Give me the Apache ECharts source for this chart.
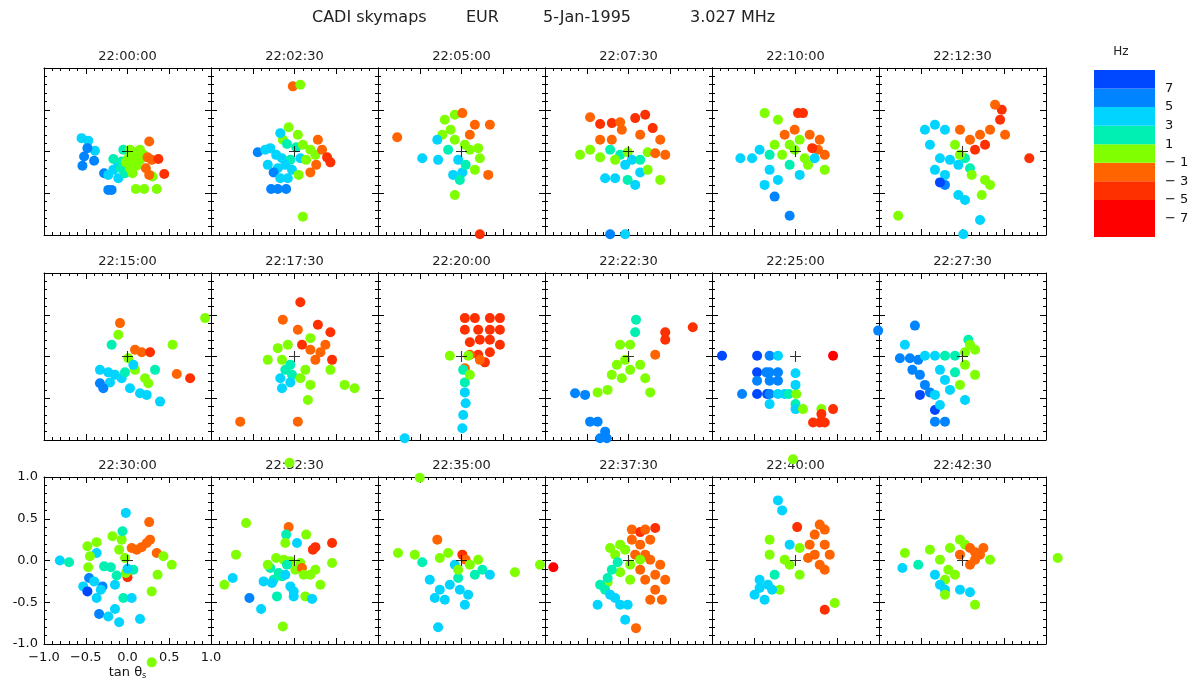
<!DOCTYPE html>
<html>
<head>
<meta charset="utf-8">
<script src="https://cdn.jsdelivr.net/npm/echarts@6/dist/echarts.min.js"></script>
<style>
  html, body { margin: 0; padding: 0; background: #fff; }
  #chart { width: 1195px; height: 684px; }
</style>
</head>
<body>
<div id="chart"></div>
<script>
// Sky-map echoes: each point is [tan θx, tan θy, Doppler shift in Hz]
const frameTimes = ['22:00:00', '22:02:30', '22:05:00', '22:07:30', '22:10:00', '22:12:30',
                    '22:15:00', '22:17:30', '22:20:00', '22:22:30', '22:25:00', '22:27:30',
                    '22:30:00', '22:32:30', '22:35:00', '22:37:30', '22:40:00', '22:42:30'];

const s220000 = [[-0.55,0.16,4],[-0.47,0.13,4],[-0.39,0.01,4],
  [-0.48,0.04,6],[-0.52,-0.06,6],[-0.54,-0.17,6],[-0.40,-0.11,6],[-0.28,-0.26,6],[-0.23,-0.46,6],[-0.19,-0.46,6],
  [-0.23,-0.28,4],[-0.11,-0.32,4],[-0.11,-0.16,4],[-0.17,-0.22,4],
  [-0.17,-0.09,2],[-0.05,0.02,2],[-0.03,-0.26,2],[-0.08,-0.20,2],[-0.07,-0.12,2],
  [0.03,0.02,0],[0.09,-0.01,0],[0.15,0.02,0],[0.01,-0.08,0],[0.07,-0.13,0],[0.15,-0.10,0],[0.11,-0.17,0],[0.03,-0.20,0],
  [0.06,-0.26,0],[0.10,-0.45,0],[0.20,-0.45,0],[0.35,-0.45,0],[0.30,-0.30,0],[-0.02,-0.13,0],[0.19,-0.04,0],[0.05,-0.05,0],[0.12,-0.06,0],
  [0.26,0.12,-2],[0.24,-0.07,-2],[0.22,-0.20,-2],[0.26,-0.28,-2],[0.29,-0.10,-2],
  [0.37,-0.09,-4],[0.44,-0.27,-4]];

const s220230 = [[-0.02,0.78,-2],[0.07,0.80,0],[-0.07,0.29,0],[0.04,0.20,0],[-0.14,0.14,0],[-0.17,0.22,4],[-0.09,0.09,2],
  [-0.44,-0.01,6],[-0.35,0.02,4],[-0.29,0.04,4],[-0.22,-0.04,4],[-0.15,-0.08,4],[-0.05,-0.10,2],[-0.11,-0.16,4],[-0.20,-0.20,4],
  [-0.03,-0.22,4],[0.07,-0.08,4],[0.02,0.05,2],[-0.25,-0.25,6],[-0.32,-0.16,4],[-0.08,-0.32,4],[-0.17,-0.32,4],
  [-0.28,-0.45,6],[-0.20,-0.45,6],[-0.10,-0.45,6],
  [0.10,0.08,0],[0.19,0.02,0],[0.14,-0.10,0],[0.25,-0.04,0],[0.05,-0.28,0],
  [0.28,0.14,-2],[0.33,0.02,-2],[0.39,-0.07,-4],[0.26,-0.16,-2],[0.43,-0.13,-4],[0.19,-0.25,-2],
  [0.10,-0.78,0]];

const s220500 = [[-0.77,0.17,-2],[-0.20,0.38,0],[-0.08,0.44,0],[0.01,0.46,-2],[0.16,0.32,-2],[0.34,0.32,-2],[0.10,0.20,-2],
  [-0.23,0.20,0],[-0.13,0.26,0],[-0.08,0.14,0],[-0.29,0.14,4],[-0.47,-0.08,4],[-0.28,-0.10,4],[-0.16,0.02,2],
  [0.10,0.02,0],[0.22,-0.08,0],[-0.04,-0.10,4],[0.01,-0.25,4],[0.05,-0.16,2],[-0.10,-0.28,4],[0.32,-0.28,-2],
  [0.16,-0.22,0],[-0.02,-0.34,2],[-0.08,-0.52,0],[0.22,-0.99,-4],[0.04,0.08,0],[0.20,0.04,0]];

const s220730 = [[-0.46,0.41,-2],[-0.34,0.33,-4],[-0.20,0.34,-4],[-0.10,0.35,-2],[0.08,0.40,-4],[0.20,0.44,-4],[0.29,0.28,-4],
  [0.38,0.14,-2],[0.14,0.20,-2],[-0.20,0.14,-2],[-0.34,0.14,-2],[-0.08,0.26,-2],
  [-0.58,-0.04,0],[-0.46,0.02,0],[-0.34,-0.07,0],[-0.22,0.02,2],[-0.10,-0.04,2],[-0.01,-0.01,0],[0.04,-0.10,4],[-0.04,-0.16,4],
  [0.14,-0.10,2],[0.23,-0.01,0],[0.32,-0.02,-2],[0.44,-0.04,-2],[-0.16,-0.10,0],
  [-0.28,-0.32,4],[-0.16,-0.32,4],[-0.01,-0.34,2],[0.14,-0.25,4],[0.23,-0.22,0],[0.38,-0.34,0],[0.08,-0.40,4],
  [-0.22,-0.99,6],[-0.04,-0.99,4]];

const s221000 = [[-0.37,0.46,0],[-0.21,0.38,0],[0.03,0.46,-4],[0.09,0.46,-4],[-0.13,0.20,-2],[-0.01,0.26,-2],[0.17,0.20,-2],
  [0.29,0.14,-2],[0.05,0.14,0],[-0.07,0.08,0],
  [-0.66,-0.08,4],[-0.52,-0.08,4],[-0.43,0.02,4],[-0.31,-0.04,2],[-0.25,0.08,0],[-0.16,-0.04,0],[-0.01,0.02,0],[0.11,-0.08,0],
  [0.27,0.02,-2],[0.35,-0.04,-2],[0.20,0.04,-4],
  [-0.31,-0.22,4],[-0.21,-0.34,4],[-0.37,-0.40,4],[-0.25,-0.54,6],[-0.07,-0.77,6],[-0.07,-0.16,2],[0.15,-0.16,0],
  [0.35,-0.22,0],[0.05,-0.28,4],[0.23,-0.08,4]];

const s221230 = [[-0.77,-0.77,0],[0.01,-0.99,4],[0.80,-0.08,-4],
  [0.09,0.14,-2],[0.21,0.20,-2],[0.33,0.26,-2],[0.45,0.38,-4],[0.47,0.50,-4],[0.39,0.56,-2],[0.27,0.08,-4],[0.15,0.02,-4],
  [-0.03,0.26,-2],[0.51,0.20,-2],
  [-0.45,0.26,4],[-0.33,0.32,4],[-0.21,0.26,4],[-0.39,0.08,4],[-0.27,-0.08,4],[-0.15,-0.10,4],[-0.33,-0.22,4],[-0.21,-0.28,4],
  [-0.05,-0.16,4],[0.03,-0.08,2],[0.09,-0.20,2],
  [-0.09,0.08,0],[-0.03,-0.04,0],[0.11,-0.28,0],[0.27,-0.34,0],[0.33,-0.40,0],[0.23,-0.52,0],[-0.05,-0.52,4],[-0.21,-0.40,6],
  [0.03,-0.58,4],[0.21,-0.82,4],[-0.27,-0.37,8]];

const s221500 = [[0.93,0.46,0],[-0.09,0.40,-2],[-0.11,0.26,0],[-0.19,0.14,2],[0.09,0.08,-2],[0.17,0.05,-2],[0.27,0.05,-4],[0.01,-0.02,0],
  [-0.33,-0.16,4],[-0.23,-0.19,4],[-0.15,-0.22,4],[-0.07,-0.26,4],[-0.21,-0.31,4],[-0.33,-0.32,6],[-0.29,-0.38,6],[-0.03,-0.19,2],
  [0.09,-0.16,0],[0.21,-0.26,0],[0.25,-0.32,0],[0.03,-0.38,4],[0.15,-0.44,4],[0.23,-0.46,4],[0.39,-0.54,4],[0.07,-0.10,4],
  [0.59,-0.21,-2],[0.75,-0.26,-4],[0.54,0.14,0],[0.33,-0.16,2]];

const s221730 = [[0.07,0.65,-4],[0.04,0.32,-2],[-0.14,0.44,-2],[0.28,0.38,-4],[0.43,0.29,-4],[0.37,0.14,-2],[0.31,0.05,-2],
  [0.19,0.08,-2],[0.25,-0.04,-2],[0.09,0.14,-4],
  [-0.20,0.10,0],[-0.08,0.14,0],[-0.15,-0.04,0],[-0.05,-0.10,2],[-0.11,-0.16,2],[-0.03,-0.22,2],[-0.17,-0.26,4],[-0.05,-0.31,4],
  [0.13,-0.16,0],[0.07,-0.26,0],[0.19,-0.34,0],[0.43,-0.16,0],[0.60,-0.34,0],[0.72,-0.38,0],[-0.32,-0.04,0],
  [-0.65,-0.78,-2],[0.04,-0.78,-2],[0.16,-0.52,0],[-0.15,-0.38,4],[0.45,-0.04,-4],[0.19,0.22,0]];

const s222000 = [[0.04,0.46,-4],[0.16,0.46,-4],[0.34,0.46,-4],[0.46,0.46,-4],[0.04,0.32,-4],[0.20,0.32,-4],[0.34,0.32,-4],
  [0.46,0.32,-4],[0.10,0.17,-4],[0.22,0.20,-4],[0.34,0.20,-4],[0.46,0.14,-4],[0.20,0.02,-4],[0.34,0.05,-4],[0.28,-0.07,-4],
  [0.10,0.02,-2],[0.22,-0.04,-2],[0.04,-0.14,-2],
  [-0.14,0.01,0],[0.08,0.01,0],[0.02,-0.16,2],[0.04,-0.31,2],[0.04,-0.43,4],[0.05,-0.56,4],[0.02,-0.70,4],[0.01,-0.86,4],
  [-0.68,-0.98,4],[0.10,-0.22,0]];

const s222230 = [[0.77,0.35,-4],[0.44,0.29,-4],[0.44,0.20,-4],[0.09,0.44,2],[0.32,0.02,-2],
  [-0.10,0.14,0],[0.02,0.14,0],[-0.04,-0.04,0],[-0.14,-0.10,0],[0.02,-0.16,0],[0.14,-0.10,0],[0.20,-0.26,0],[-0.08,-0.26,0],
  [0.08,0.29,2],[-0.25,-0.40,0],[-0.37,-0.43,0],[-0.20,-0.22,0],[0.26,-0.43,0],
  [-0.64,-0.44,6],[-0.52,-0.46,6],[-0.46,-0.78,6],[-0.37,-0.78,6],[-0.28,-0.90,6],[-0.26,-0.98,6],[-0.34,-0.98,6]];

const s222500 = [[-0.88,0.01,8],[-0.46,0.01,8],[-0.31,0.01,6],[-0.21,0.01,4],[0.45,0.01,-8],
  [-0.46,-0.19,8],[-0.35,-0.19,6],[-0.31,-0.19,6],[-0.21,-0.19,6],
  [-0.46,-0.29,6],[-0.31,-0.29,6],[-0.21,-0.29,6],
  [-0.64,-0.45,6],[-0.46,-0.45,8],[-0.34,-0.45,8],[-0.31,-0.45,6],[-0.21,-0.45,4],[-0.13,-0.45,4],[-0.08,-0.45,2],[0.01,-0.45,0],
  [0.00,-0.20,4],[0.00,-0.34,4],[-0.31,-0.57,4],[0.00,-0.57,2],[0.00,-0.63,4],[0.09,-0.63,0],[0.31,-0.63,0],[0.31,-0.69,-4],
  [0.45,-0.63,-4],[0.21,-0.79,-4],[0.29,-0.79,-4],[0.35,-0.79,-4],[-0.03,-1.23,0]];

const s222730 = [[-1.01,0.31,6],[-0.57,0.37,6],[-0.69,0.14,4],[-0.75,-0.02,6],[-0.63,-0.02,6],[-0.53,-0.04,6],[-0.45,0.01,4],
  [-0.33,0.01,4],[-0.21,0.01,2],[-0.09,0.01,2],[0.03,0.05,0],[0.15,0.08,0],[0.07,0.20,2],[0.09,0.14,0],
  [-0.60,-0.16,6],[-0.51,-0.22,6],[-0.45,-0.34,6],[-0.39,-0.43,6],[-0.51,-0.46,8],[-0.33,-0.64,8],
  [-0.27,-0.16,4],[-0.21,-0.28,4],[-0.15,-0.40,4],[-0.33,-0.46,4],[-0.27,-0.58,4],[-0.09,-0.19,2],[0.03,-0.10,0],[0.15,-0.22,0],
  [-0.03,-0.34,0],[0.03,-0.52,4],[-0.33,-0.78,6],[-0.21,-0.78,6]];

const s223000 = [[-0.81,0.00,4],[-0.70,-0.02,2],[-0.02,0.57,4],[0.26,0.46,-2],[-0.18,0.29,0],[-0.48,0.17,0],[-0.37,0.22,0],
  [-0.37,0.09,4],[-0.45,0.05,0],[-0.47,-0.08,0],[-0.28,-0.07,2],[-0.20,-0.08,2],[-0.07,0.25,0],[-0.06,0.35,2],[-0.10,0.13,0],
  [-0.03,0.03,0],
  [0.05,0.15,-2],[0.11,0.13,-2],[0.17,0.16,-2],[0.23,0.21,-2],[0.27,0.25,-2],[0.35,0.09,-2],[0.00,-0.20,-4],
  [0.43,0.05,0],[0.53,-0.05,0],[0.36,-0.17,0],[0.29,-0.37,0],[0.07,-0.11,2],[-0.02,-0.15,0],
  [-0.30,-0.31,6],[-0.53,-0.31,4],[-0.48,-0.37,8],[-0.46,-0.21,6],[-0.37,-0.45,4],[-0.40,-0.25,4],[-0.15,-0.29,4],[-0.13,-0.18,2],
  [-0.05,-0.45,2],[0.05,-0.45,4],[-0.34,-0.64,6],[-0.23,-0.67,4],[-0.15,-0.58,4],[-0.10,-0.74,4],[0.15,-0.70,4],[0.29,-1.22,0],
  [-0.32,-0.35,4],[0.00,-0.10,4]];

const s223230 = [[-0.06,1.17,0],[-0.58,0.45,0],[-0.07,0.40,-2],[0.14,0.31,0],[-0.10,0.31,2],[-0.11,0.21,0],[0.03,0.21,4],
  [0.25,0.16,-4],[0.22,0.13,-4],[0.45,0.21,-4],[-0.70,0.07,0],[0.45,-0.03,0],[0.25,-0.11,0],[0.31,-0.29,0],[-0.74,-0.21,4],
  [-0.84,-0.29,0],[-0.54,-0.45,6],[-0.40,-0.58,4],[-0.14,-0.79,0],[-0.21,-0.43,2],[-0.05,-0.31,4],[-0.01,-0.37,4],[-0.01,-0.43,4],
  [0.13,-0.43,0],[0.21,-0.46,4],
  [-0.22,0.03,0],[-0.13,0.01,0],[-0.05,-0.01,0],[0.07,-0.03,0],[0.01,-0.11,0],[-0.29,-0.09,2],[-0.19,-0.15,2],[-0.25,-0.23,2],
  [-0.15,-0.19,2],[-0.37,-0.25,4],[-0.27,-0.27,4],[-0.11,-0.17,4],[0.09,-0.09,-2],[0.11,-0.17,0],[-0.32,-0.05,0],[-0.09,-0.05,2],
  [0.19,-0.17,0]];

const s223500 = [[-0.50,0.99,0],[-0.76,0.09,0],[-0.56,0.07,0],[-0.47,-0.02,2],[-0.29,0.25,-2],[-0.16,0.09,0],[-0.26,0.03,0],
  [-0.08,-0.05,4],[0.01,0.07,-4],[0.05,0.01,-2],[0.10,-0.05,0],[0.20,0.01,0],[0.25,-0.11,2],[0.34,-0.17,4],[0.64,-0.14,0],
  [0.94,-0.05,0],
  [-0.38,-0.23,4],[-0.26,-0.35,4],[-0.32,-0.45,4],[-0.14,-0.29,4],[-0.20,-0.47,4],[-0.02,-0.35,4],[0.08,-0.41,4],[0.04,-0.53,4],
  [-0.04,-0.21,2],[-0.28,-0.80,4],[0.16,-0.17,2],[-0.04,-0.11,0]];

const s223730 = [[-0.90,-0.08,-8],
  [0.04,0.37,-2],[0.14,0.34,-4],[0.20,0.37,-2],[0.32,0.39,-4],[0.04,0.25,-2],[0.14,0.19,-2],[0.26,0.25,-2],[0.20,0.07,-2],
  [0.08,0.07,-2],[0.26,0.01,-2],[0.38,-0.05,-2],[0.14,-0.11,-2],[0.32,-0.17,-2],[0.44,-0.23,-2],[0.32,-0.35,-2],[0.20,-0.23,-2],
  [0.26,-0.47,-2],[0.40,-0.47,-2],
  [-0.22,0.15,0],[-0.10,0.19,0],[-0.16,0.07,0],[-0.04,0.13,0],[0.02,-0.05,0],[-0.10,-0.14,0],[0.14,0.01,0],[0.02,-0.23,0],
  [-0.25,-0.26,0],
  [-0.13,-0.02,2],[-0.20,-0.11,2],[-0.25,-0.21,2],[-0.34,-0.29,2],[-0.28,-0.35,2],
  [-0.22,-0.41,4],[-0.37,-0.53,4],[-0.16,-0.45,4],[-0.10,-0.53,4],[-0.01,-0.53,4],[-0.04,-0.71,4],[0.09,-0.81,-2]];

const s224000 = [[-0.21,0.72,4],[-0.16,0.60,4],[0.02,0.40,-4],[-0.31,0.25,0],[-0.31,0.07,0],[-0.07,0.19,4],
  [0.29,0.43,-2],[0.35,0.37,-2],[0.23,0.31,-2],[0.17,0.19,-2],[0.35,0.19,-2],[0.23,0.07,-2],[0.41,0.07,-2],[0.29,-0.05,-2],
  [0.35,-0.11,-2],[0.15,0.03,-2],
  [0.05,0.15,0],[-0.13,0.01,0],[-0.07,-0.05,0],[0.05,-0.17,0],[-0.19,-0.35,0],[-0.25,-0.17,2],
  [-0.43,-0.23,4],[-0.33,-0.29,4],[-0.49,-0.41,4],[-0.37,-0.47,4],[-0.28,-0.35,4],[-0.43,-0.33,4],[0.35,-0.59,-4],[0.47,-0.51,0]];

const s224230 = [[-0.69,0.09,0],[-0.72,-0.09,4],[-0.53,-0.05,2],[-0.39,0.13,0],[-0.15,0.15,0],[-0.03,0.25,0],[0.03,0.19,0],
  [0.09,0.15,-2],[0.15,0.10,-2],[0.21,0.07,-2],[0.15,0.01,-2],[0.09,-0.05,-2],[-0.03,0.07,-2],[0.25,0.15,-2],
  [-0.27,0.01,0],[-0.17,-0.11,0],[-0.09,-0.17,0],[-0.21,-0.23,0],
  [-0.33,-0.17,4],[-0.27,-0.29,4],[-0.21,-0.35,4],[-0.03,-0.35,4],[0.09,-0.38,4],
  [-0.21,-0.41,0],[0.15,-0.53,0],[0.33,0.01,0],[1.14,0.03,0]];

const frames = [s220000, s220230, s220500, s220730, s221000, s221230,
                s221500, s221730, s222000, s222230, s222500, s222730,
                s223000, s223230, s223500, s223730, s224000, s224230];

// Sounder location marker at the centre of each map
const siteMarker = [[0, 0]];

// Doppler colour scale: bin edges (Hz) and colour bar tick values
const dopplerEdges = [-9, -5, -3, -1, 1, 3, 5, 7, 9];
const dopplerTicks = [7, 5, 3, 1, -1, -3, -5, -7];

// Colours of the Doppler bins, lowest to highest
const binColors = ['#ff0000', '#ff3000', '#ff6400', '#80ff00', '#00f0b4', '#00d4ff', '#0084ff', '#0048ff'];

function binOf(hz) {
  for (let i = 0; i < dopplerEdges.length - 1; i++) {
    if (hz < dopplerEdges[i + 1]) return i;
  }
  return dopplerEdges.length - 2;
}

const FONT = '"DejaVu Sans", "Liberation Sans", sans-serif';
const PANEL_LEFT = 44, PANEL_W = 167, PANEL_H = 167;
const ROW_TOPS = [68, 273, 477];

const grids = [], xAxes = [], yAxes = [], series = [], graphics = [];

function boxAxis(dim, gi, position, withLabels) {
  const ax = {
    type: 'value', gridIndex: gi, position: position,
    min: -1, max: 1, interval: 0.5,
    axisLine: { show: true, onZero: false, lineStyle: { color: '#000', width: 1 } },
    axisTick: { show: true, inside: true, length: 6, lineStyle: { color: '#000', width: 1 } },
    minorTick: { show: true, splitNumber: 5, length: 3, lineStyle: { color: '#000', width: 1 } },
    splitLine: { show: false },
    axisLabel: { show: false }
  };
  if (withLabels) {
    ax.axisLabel = {
      show: true, color: '#111', fontSize: 13, fontFamily: FONT,
      margin: dim === 'x' ? 7 : 6,
      formatter: v => {
        const s = Math.abs(v).toFixed(1);
        if (v < 0) return (dim === 'x' ? '\u2212' : '-') + s;
        return s;
      }
    };
  }
  return ax;
}

frames.forEach((pts, i) => {
  const col = i % 6, row = Math.floor(i / 6);
  const left = PANEL_LEFT + col * PANEL_W, top = ROW_TOPS[row];
  grids.push({ left: left, top: top, width: PANEL_W, height: PANEL_H, outerBoundsMode: 'none', containLabel: false });
  const labelled = (i === 12);
  const xb = boxAxis('x', i, 'bottom', labelled);
  if (labelled) {
    xb.name = 'tan \u03b8{s|s}';
    xb.nameLocation = 'middle';
    xb.nameGap = 22;
    xb.nameTextStyle = { color: '#111', fontSize: 13, fontFamily: FONT,
      rich: { s: { fontSize: 8, fontFamily: FONT, color: '#111', padding: [6, 0, 0, 0] } } };
  }
  xAxes.push(xb, boxAxis('x', i, 'top', false));
  yAxes.push(boxAxis('y', i, 'left', labelled), boxAxis('y', i, 'right', false));

  series.push({
    type: 'scatter', xAxisIndex: 2 * i, yAxisIndex: 2 * i,
    data: pts, symbol: 'circle', symbolSize: 10, clip: false, silent: true,
    itemStyle: { color: p => binColors[binOf(p.value[2])], opacity: 1 },
    z: 2
  });
  series.push({
    type: 'scatter', xAxisIndex: 2 * i, yAxisIndex: 2 * i,
    data: siteMarker, symbol: 'path://M0,4.5h10v1h-10zM4.5,0h1v10h-1z', symbolSize: 11,
    clip: false, silent: true, itemStyle: { color: '#000' }, z: 3
  });

  graphics.push({
    type: 'text', x: left + PANEL_W / 2, y: top - 11, silent: true,
    style: { text: frameTimes[i], fontSize: 13, fontFamily: FONT, fill: '#222', align: 'center', verticalAlign: 'middle' }
  });
});

// Colour bar
const cbIndex = frames.length;
grids.push({ left: 1094, top: 70, width: 61, height: 167, outerBoundsMode: 'none', containLabel: false });
xAxes.push({ type: 'value', gridIndex: cbIndex, min: 0, max: 1, show: false });
yAxes.push({
  type: 'value', gridIndex: cbIndex, position: 'right', min: -9, max: 9, interval: 1,
  axisLine: { show: false }, axisTick: { show: false }, splitLine: { show: false },
  axisLabel: {
    show: true, margin: 10, color: '#111', fontSize: 13, fontFamily: FONT,
    formatter: v => dopplerTicks.indexOf(v) < 0 ? '' : (v < 0 ? '\u2212 ' + (-v) : String(v))
  }
});
const bandData = [];
for (let i = 0; i < dopplerEdges.length - 1; i++) bandData.push([dopplerEdges[i], dopplerEdges[i + 1], i]);
series.push({
  type: 'custom', xAxisIndex: 2 * cbIndex, yAxisIndex: 2 * cbIndex, data: bandData, silent: true,
  encode: { y: [0, 1] },
  renderItem: (params, api) => {
    const p0 = api.coord([0, api.value(1)]);
    const p1 = api.coord([1, api.value(0)]);
    return { type: 'rect', shape: { x: p0[0], y: p0[1], width: p1[0] - p0[0], height: p1[1] - p0[1] },
             style: { fill: binColors[api.value(2)] } };
  }
});
graphics.push({ type: 'text', x: 1121, y: 52, silent: true,
  style: { text: 'Hz', fontSize: 12, fontFamily: FONT, fill: '#222', align: 'center', verticalAlign: 'middle' } });

// Figure heading
[['CADI skymaps', 312], ['EUR', 466], ['5-Jan-1995', 543], ['3.027 MHz', 690]].forEach(([t, x]) => {
  graphics.push({ type: 'text', x: x, y: 18, silent: true,
    style: { text: t, fontSize: 16, fontFamily: FONT, fill: '#222', align: 'left', verticalAlign: 'middle' } });
});

const chart = echarts.init(document.getElementById('chart'), null, { renderer: 'canvas' });
chart.setOption({
  backgroundColor: '#fff',
  animation: false,
  grid: grids,
  xAxis: xAxes,
  yAxis: yAxes,
  series: series,
  graphic: graphics
});
</script>
</body>
</html>
